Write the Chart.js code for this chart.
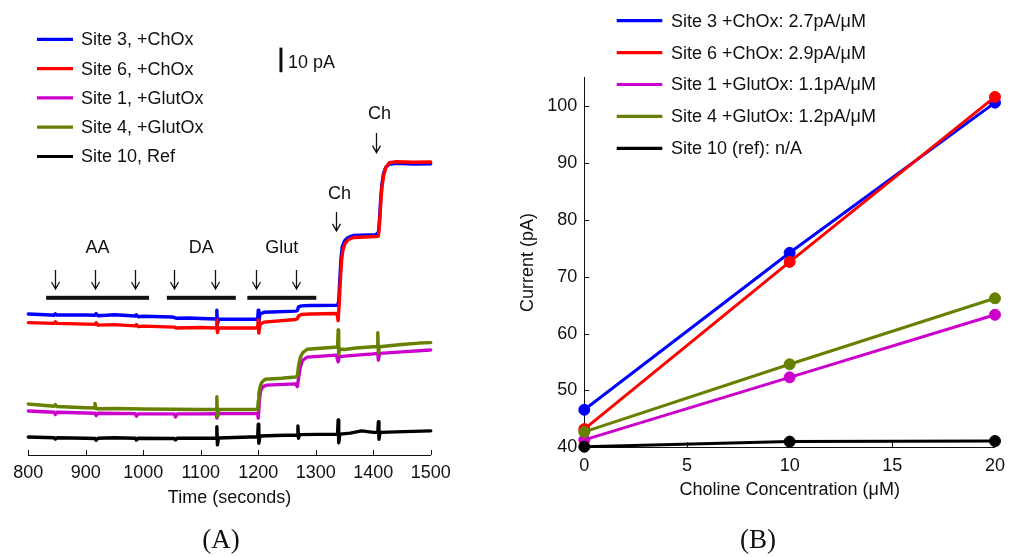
<!DOCTYPE html>
<html>
<head>
<meta charset="utf-8">
<script src="https://cdn.jsdelivr.net/npm/chart.js@4.4.1/dist/chart.umd.min.js"></script>
<style>
  body { margin: 0; background: #fff; }
  #traceChart { position: absolute; left: 0; top: 0; }
  #calibChart { position: absolute; left: 480px; top: 0; }
</style>
</head>
<body>
<canvas id="traceChart" width="480" height="557"></canvas>
<canvas id="calibChart" width="533" height="557"></canvas>
<script>
// (A) amperometric recordings, [time (s), current (pA)] with per-site offsets
const site3Trace = [[800, 57.3], [830, 57.0], [845, 56.8], [847, 57.4], [850, 56.9], [900, 56.9], [916, 56.8], [918, 57.5], [921, 56.6],
  [950, 57.0], [986, 56.5], [988, 57.0], [991, 56.2], [1000, 56.4], [1050, 56.1], [1054, 55.9], [1057, 55.6], [1080, 55.7],
  [1100, 55.5], [1127, 55.3], [1128, 58.9], [1129, 53.1], [1131, 55.3], [1160, 55.2], [1199, 55.3], [1200, 58.9], [1201, 53.7],
  [1203, 57.3], [1210, 58.0], [1265, 58.5], [1268, 58.7], [1270, 60.2], [1275, 60.6], [1290, 60.8], [1338, 60.9], [1340, 62.5],
  [1342, 72.0], [1344, 80.0], [1346, 84.5], [1350, 87.0], [1356, 88.4], [1365, 89.2], [1405, 89.6], [1409, 90.5], [1411, 96.0],
  [1413, 104.0], [1415, 110.0], [1418, 114.5], [1422, 117.0], [1428, 118.2], [1440, 118.6], [1470, 118.3], [1500, 118.4]];
const site6Trace = [[800, 53.8], [845, 53.5], [847, 54.1], [850, 53.5], [900, 53.2], [916, 53.1], [918, 53.7], [921, 52.8],
  [950, 53.0], [986, 52.5], [988, 53.0], [991, 52.2], [1000, 52.4], [1054, 52.0], [1057, 51.6], [1100, 51.8], [1127, 51.6],
  [1128, 54.9], [1129, 49.8], [1131, 51.6], [1199, 51.6], [1200, 54.9], [1201, 49.6], [1203, 53.0], [1210, 54.0], [1265, 55.1],
  [1268, 55.4], [1270, 56.5], [1275, 57.1], [1290, 57.3], [1337, 57.5], [1339, 54.6], [1341, 62.0], [1343, 72.0], [1345, 79.0],
  [1347, 83.0], [1351, 86.0], [1357, 87.6], [1366, 88.4], [1405, 88.8], [1409, 89.0], [1411, 94.0], [1413, 102.0], [1415, 108.5],
  [1418, 113.5], [1422, 117.0], [1428, 118.8], [1440, 119.2], [1470, 119.0], [1500, 119.1]];
const site1Trace = [[800, 17.9], [845, 17.4], [847, 16.5], [850, 17.4], [900, 17.1], [916, 17.0], [918, 16.0], [921, 17.0],
  [986, 16.8], [988, 15.8], [991, 16.7], [1054, 16.7], [1056, 15.5], [1059, 16.7], [1100, 16.7], [1127, 16.8], [1128, 15.0],
  [1131, 16.8], [1199, 16.9], [1200, 15.0], [1202, 22.0], [1204, 26.0], [1208, 27.8], [1215, 28.4], [1265, 28.9], [1268, 27.8],
  [1270, 31.0], [1273, 35.5], [1277, 38.5], [1285, 39.8], [1336, 40.6], [1339, 37.9], [1341, 40.0], [1350, 40.2], [1400, 41.1],
  [1408, 41.3], [1409, 38.6], [1411, 41.3], [1450, 41.9], [1500, 42.7]];
const site4Trace = [[800, 20.7], [820, 20.3], [845, 19.8], [847, 20.5], [850, 19.7], [900, 19.2], [915, 19.1], [916, 21.0],
  [918, 18.8], [950, 18.9], [1000, 18.7], [1050, 18.6], [1100, 18.5], [1127, 18.5], [1128, 23.7], [1129, 15.6], [1131, 18.5],
  [1199, 18.5], [1200, 22.0], [1201, 25.0], [1203, 27.5], [1206, 29.5], [1212, 30.8], [1240, 31.2], [1265, 31.7], [1268, 32.2],
  [1270, 36.0], [1273, 39.5], [1277, 41.5], [1285, 43.0], [1338, 43.9], [1339, 50.8], [1340, 40.8], [1342, 43.1], [1350, 42.9],
  [1370, 43.5], [1400, 44.0], [1407, 44.1], [1408, 49.7], [1409, 41.5], [1411, 44.0], [1450, 44.9], [1480, 45.5], [1500, 45.7]];
const site10Trace = [[800, 7.3], [845, 7.0], [847, 6.5], [850, 7.0], [900, 6.8], [916, 6.7], [918, 6.0], [921, 6.8], [950, 7.0],
  [986, 6.8], [988, 6.1], [991, 6.8], [1054, 6.7], [1056, 6.1], [1059, 6.8], [1100, 6.8], [1127, 6.8], [1128, 11.5], [1129, 4.1],
  [1131, 6.9], [1199, 7.4], [1200, 12.5], [1201, 4.8], [1203, 7.7], [1230, 7.9], [1268, 8.1], [1269, 11.8], [1270, 6.8],
  [1272, 8.3], [1338, 8.5], [1339, 14.2], [1340, 5.0], [1342, 8.5], [1360, 8.9], [1380, 9.8], [1400, 9.2], [1408, 9.2],
  [1409, 13.5], [1410, 6.4], [1412, 9.2], [1440, 9.4], [1500, 9.8]];
const timeTicks = [800, 900, 1000, 1100, 1200, 1300, 1400, 1500];

// injection times (s)
const injectTimes = [846, 916, 986, 1054, 1125, 1196, 1265];
const injectGroups = ['AA', 'DA', 'Glut'];
const groupStart = [831, 1041, 1181];
const groupEnd = [1010, 1161, 1301];
const cholineTimes = [1335, 1404];

// (B) choline calibration
const cholineConc = [0, 10, 20];
const site3Current = [46.6, 74.2, 100.6];
const site6Current = [43.2, 72.6, 101.6];
const site1Current = [41.3, 52.3, 63.3];
const site4Current = [42.7, 54.6, 66.2];
const site10Current = [40.1, 41.0, 41.1];
const currentTicks = [40, 50, 60, 70, 80, 90, 100];
const concTicks = [0, 5, 10, 15, 20];

const traceLabels = ['Site 3, +ChOx', 'Site 6, +ChOx', 'Site 1, +GlutOx', 'Site 4, +GlutOx', 'Site 10, Ref'];
const calibLabels = ['Site 3 +ChOx: 2.7pA/\u03BCM', 'Site 6 +ChOx: 2.9pA/\u03BCM', 'Site 1 +GlutOx: 1.1pA/\u03BCM',
  'Site 4 +GlutOx: 1.2pA/\u03BCM', 'Site 10 (ref): n/A'];
const siteColors = ['#0000ff', '#ff0000', '#cc00cc', '#668000', '#000000'];

const INK = '#111111';
const FONT_FAMILY = '"Liberation Sans", Arial, Helvetica, sans-serif';
const FONT_SIZE = 18;

Chart.defaults.font.family = FONT_FAMILY;
Chart.defaults.font.size = FONT_SIZE;
Chart.defaults.color = INK;

function fixedTicks(values) {
  return scale => { scale.ticks = values.map(v => ({ value: v })); };
}
const plainNumber = v => String(v);

// MATLAB-style ticks pointing into the plot
const inwardTicks = {
  id: 'inwardTicks',
  afterDraw(chart) {
    const { ctx, chartArea: area, scales } = chart;
    ctx.save();
    ctx.strokeStyle = INK;
    ctx.lineWidth = 1;
    ctx.beginPath();
    scales.x.ticks.forEach(t => {
      const px = Math.round(scales.x.getPixelForValue(t.value)) + 0.5;
      ctx.moveTo(px, area.bottom);
      ctx.lineTo(px, area.bottom - 5);
    });
    if (scales.y.options.display) {
      scales.y.ticks.forEach(t => {
        const py = Math.round(scales.y.getPixelForValue(t.value)) + 0.5;
        ctx.moveTo(area.left, py);
        ctx.lineTo(area.left + 5, py);
      });
    }
    ctx.stroke();
    ctx.restore();
  }
};

function lineLegend(x0, y0, rowGap, lineLen, textGap) {
  return {
    id: 'lineLegend',
    afterDraw(chart) {
      const ctx = chart.ctx;
      ctx.save();
      ctx.font = FONT_SIZE + 'px ' + FONT_FAMILY;
      ctx.textBaseline = 'middle';
      chart.data.datasets.forEach((ds, i) => {
        const y = y0 + i * rowGap;
        ctx.strokeStyle = ds.borderColor;
        ctx.lineWidth = 3.2;
        ctx.beginPath();
        ctx.moveTo(x0, y);
        ctx.lineTo(x0 + lineLen, y);
        ctx.stroke();
        ctx.fillStyle = INK;
        ctx.fillText(ds.label, x0 + lineLen + textGap, y + 1);
      });
      ctx.restore();
    }
  };
}

function panelTag(text, x, y) {
  return {
    id: 'panelTag',
    afterDraw(chart) {
      const ctx = chart.ctx;
      ctx.save();
      ctx.font = '27px "Liberation Serif", "Times New Roman", serif';
      ctx.fillStyle = INK;
      ctx.textAlign = 'center';
      ctx.textBaseline = 'middle';
      ctx.fillText(text, x, y);
      ctx.restore();
    }
  };
}

function drawArrow(ctx, px, top, bottom) {
  ctx.beginPath();
  ctx.moveTo(px, top);
  ctx.lineTo(px, bottom);
  ctx.moveTo(px - 4, bottom - 7);
  ctx.lineTo(px, bottom);
  ctx.lineTo(px + 4, bottom - 7);
  ctx.stroke();
}

// injection arrows, bars, labels and the 10 pA scale bar
const stimulusMarks = {
  id: 'stimulusMarks',
  afterDatasetsDraw(chart) {
    const { ctx, scales: { x, y } } = chart;
    ctx.save();
    ctx.strokeStyle = INK;
    ctx.fillStyle = INK;
    ctx.lineWidth = 1.3;
    ctx.font = FONT_SIZE + 'px ' + FONT_FAMILY;
    ctx.textAlign = 'center';
    ctx.textBaseline = 'middle';

    injectTimes.forEach(t => {
      drawArrow(ctx, Math.round(x.getPixelForValue(t)) + 0.5, y.getPixelForValue(75.2), y.getPixelForValue(67.5));
    });
    injectGroups.forEach((name, i) => {
      const x1 = x.getPixelForValue(groupStart[i]);
      const x2 = x.getPixelForValue(groupEnd[i]);
      const by = y.getPixelForValue(63.9);
      ctx.fillRect(x1, by - 2, x2 - x1, 4);
      ctx.fillText(name, (x1 + x2) / 2, y.getPixelForValue(84.2));
    });

    const chLevels = [[106.0, 98.8, 91.1], [138.8, 130.9, 122.9]];
    cholineTimes.forEach((t, i) => {
      const px = Math.round(x.getPixelForValue(t)) + 0.5;
      const [labelY, top, bottom] = chLevels[i];
      drawArrow(ctx, px, y.getPixelForValue(top), y.getPixelForValue(bottom));
      ctx.fillText('Ch', px + 3, y.getPixelForValue(labelY));
    });

    const sx = x.getPixelForValue(1239.5);
    const sTop = y.getPixelForValue(165.6);
    const sBottom = y.getPixelForValue(155.6);
    ctx.fillRect(sx - 1.5, sTop, 3, sBottom - sTop);
    ctx.textAlign = 'left';
    ctx.fillText('10 pA', sx + 7, (sTop + sBottom) / 2 + 3);
    ctx.restore();
  }
};

const traceSeries = [site3Trace, site6Trace, site1Trace, site4Trace, site10Trace];

new Chart(document.getElementById('traceChart'), {
  type: 'line',
  data: {
    datasets: traceSeries.map((pts, i) => ({
      label: traceLabels[i],
      data: pts,
      borderColor: siteColors[i],
      borderWidth: 3.4,
      borderJoinStyle: 'round',
      borderCapStyle: 'round',
      pointRadius: 0,
      tension: 0,
      clip: false,
      order: traceSeries.length - i
    }))
  },
  options: {
    responsive: false,
    animation: false,
    events: [],
    layout: { padding: { left: 28.3, right: 49.3, top: 12.2, bottom: 0 } },
    plugins: { legend: { display: false }, tooltip: { enabled: false } },
    scales: {
      x: {
        type: 'linear',
        min: 800,
        max: 1500,
        afterBuildTicks: fixedTicks(timeTicks),
        afterFit: s => { s.height = 102; },
        grid: { drawOnChartArea: false, drawTicks: false },
        border: { display: true, color: INK, width: 1 },
        ticks: { padding: 7.5, maxRotation: 0, callback: plainNumber },
        title: { display: true, text: 'Time (seconds)', padding: { top: 0, bottom: 48.5 } }
      },
      y: { display: false, min: 0, max: 180 }
    }
  },
  plugins: [inwardTicks, stimulusMarks, lineLegend(37, 39.3, 29.3, 36, 8), panelTag('(A)', 221, 541)]
});

const calibSeries = [site3Current, site6Current, site1Current, site4Current, site10Current];

new Chart(document.getElementById('calibChart'), {
  type: 'line',
  data: {
    datasets: calibSeries.map((vals, i) => ({
      label: calibLabels[i],
      data: cholineConc.map((c, j) => ({ x: c, y: vals[j] })),
      borderColor: siteColors[i],
      backgroundColor: siteColors[i],
      borderWidth: 3,
      pointRadius: 5.5,
      pointBorderWidth: 1,
      pointBackgroundColor: siteColors[i],
      pointBorderColor: siteColors[i],
      tension: 0,
      clip: false,
      order: calibSeries.length - i
    }))
  },
  options: {
    responsive: false,
    animation: false,
    events: [],
    layout: { padding: { left: 0, right: 11.3, top: 77.6, bottom: 0 } },
    plugins: { legend: { display: false }, tooltip: { enabled: false } },
    scales: {
      x: {
        type: 'linear',
        min: 0,
        max: 20,
        afterBuildTicks: fixedTicks(concTicks),
        afterFit: s => { s.height = 109.7; },
        grid: { drawOnChartArea: false, drawTicks: false },
        border: { display: true, color: INK, width: 1 },
        ticks: { padding: 8, maxRotation: 0, callback: plainNumber },
        title: { display: true, text: 'Choline Concentration (\u03BCM)', padding: { top: 0, bottom: 56 } }
      },
      y: {
        type: 'linear',
        min: 40,
        max: 105,
        afterBuildTicks: fixedTicks(currentTicks),
        afterFit: s => { s.width = 104.3; },
        grid: { drawOnChartArea: false, drawTicks: false },
        border: { display: true, color: INK, width: 1 },
        ticks: { padding: 7, callback: plainNumber },
        title: { display: true, text: 'Current (pA)', padding: { top: 37, bottom: 0 } }
      }
    }
  },
  plugins: [inwardTicks, lineLegend(136.7, 20.7, 31.9, 45.6, 8.7), panelTag('(B)', 278, 541)]
});
</script>
</body>
</html>
